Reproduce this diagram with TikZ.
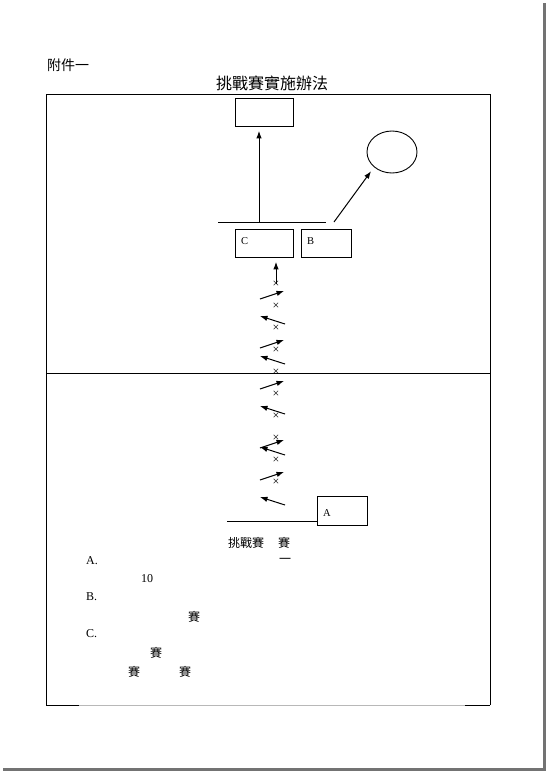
\documentclass[tikz,border=0pt]{standalone}
\usepackage{fontspec}
\setmainfont{Liberation Serif}
\newfontfamily\cjk{Noto Sans CJK TC}
\usetikzlibrary{arrows.meta,positioning,shapes.geometric}
\definecolor{pageshade}{gray}{0.45}
\definecolor{faint}{gray}{0.72}
\tikzset{
  arr/.style={-{Latex[length=7.5pt,width=5.5pt]}, line width=1pt},
  box/.style={draw, line width=0.9pt, anchor=north west, inner sep=0pt, minimum width=58pt, minimum height=28pt},
  lbl/.style={font=\fontsize{10.5}{10.5}\selectfont, inner sep=0pt, anchor=west},
  txt/.style={font=\fontsize{12}{12}\selectfont, inner sep=0pt},
  zh/.style={font=\cjk\fontsize{12}{12}\selectfont, inner sep=0pt},
  cross/.style={font=\fontsize{12}{12}\selectfont, inner sep=0pt}
}
\begin{document}
\begin{tikzpicture}[x=1pt,y=-1pt]
  \useasboundingbox (0,0) rectangle (547,772);
  \fill[pageshade] (542.5,3) rectangle (546,771);
  \fill[pageshade] (3,767.5) rectangle (546,771);

  \node[font=\cjk\fontsize{14}{14}\selectfont, inner sep=0pt, anchor=west] (annex) at (47,65) {附件一};
  \node[font=\cjk\fontsize{16}{16}\selectfont, inner sep=0pt] (title) at (272,83) {挑戰賽實施辦法};

  \coordinate (fnw) at (46,94);
  \coordinate (fne) at (490,94);
  \coordinate (fsw) at (46,705);
  \coordinate (fse) at (490,705);
  \draw[line width=1pt] (fsw) -- (fnw) -- (fne) -- (fse);
  \draw[faint, line width=1pt] (fsw) -- (fse);
  \draw[line width=1pt] (fsw) -- ++(33,0);
  \draw[line width=1pt] (fse) -- ++(-25,0);
  \draw[line width=1pt] (46,373) coordinate (mw) -- (mw -| fne);

  \node[box] (goal) at (235,98) {};
  \node[draw, ellipse, line width=0.9pt, minimum width=50pt, minimum height=42pt] (ring) at (392,152) {};
  \node[box] (c) at (235,229) {};
  \node[box, minimum width=50pt] (b) at (301,229) {};
  \node[lbl] at ([xshift=6pt,yshift=2pt]c.west) {C};
  \node[lbl] at ([xshift=6pt,yshift=2pt]b.west) {B};

  \coordinate (bar1) at (218,222);
  \coordinate (bar2) at (326,222);
  \coordinate (stem) at (259,222);
  \draw[line width=0.9pt] (bar1) -- (bar2);
  \draw[arr, shorten >=4pt] (stem) -- (stem |- goal.south);
  \draw[arr, shorten >=5pt] (334,222) coordinate (dtail) -- (ring.south west);

  \foreach \y [count=\i] in {284,306,328,350,372,394,416,438,460,482}
    \node[cross] (x\i) at (276,\y) {×};
  \draw[arr, shorten >=4pt] (x1.center) -- (x1 |- c.south);

  \foreach \y in {291,340,381,440,472}
    \draw[arr] (260,\y+8) -- (284,\y);
  \foreach \y in {316,356,406,447,497}
    \draw[arr] (285,\y+8) -- (260,\y);

  \node[box, minimum width=50pt, minimum height=29pt] (a) at (317,496) {};
  \node[lbl] at ([xshift=6pt,yshift=-2pt]a.west) {A};
  \coordinate (base) at (227,521);
  \draw[line width=1pt] (base) -- (base -| a.west);

  \node[zh, anchor=west] (rule) at (228,543) {挑戰賽};
  \node[zh] (rule2) at (284,543) {賽};
  \node[zh] (one) at (285,561) {一};
  \node[txt, anchor=west] (ia) at (86,561) {A.};
  \node[txt] (ten) at (147,579) {10};
  \node[txt, anchor=west] (ib) at (86,597) {B.};
  \node[zh] (sb) at (194,617) {賽};
  \node[txt, anchor=west] (ic) at (86,634) {C.};
  \node[zh] (sc1) at (156,653) {賽};
  \node[zh] (sc2) at (134,672) {賽};
  \node[zh] (sc3) at (185,672) {賽};
\end{tikzpicture}
\end{document}
